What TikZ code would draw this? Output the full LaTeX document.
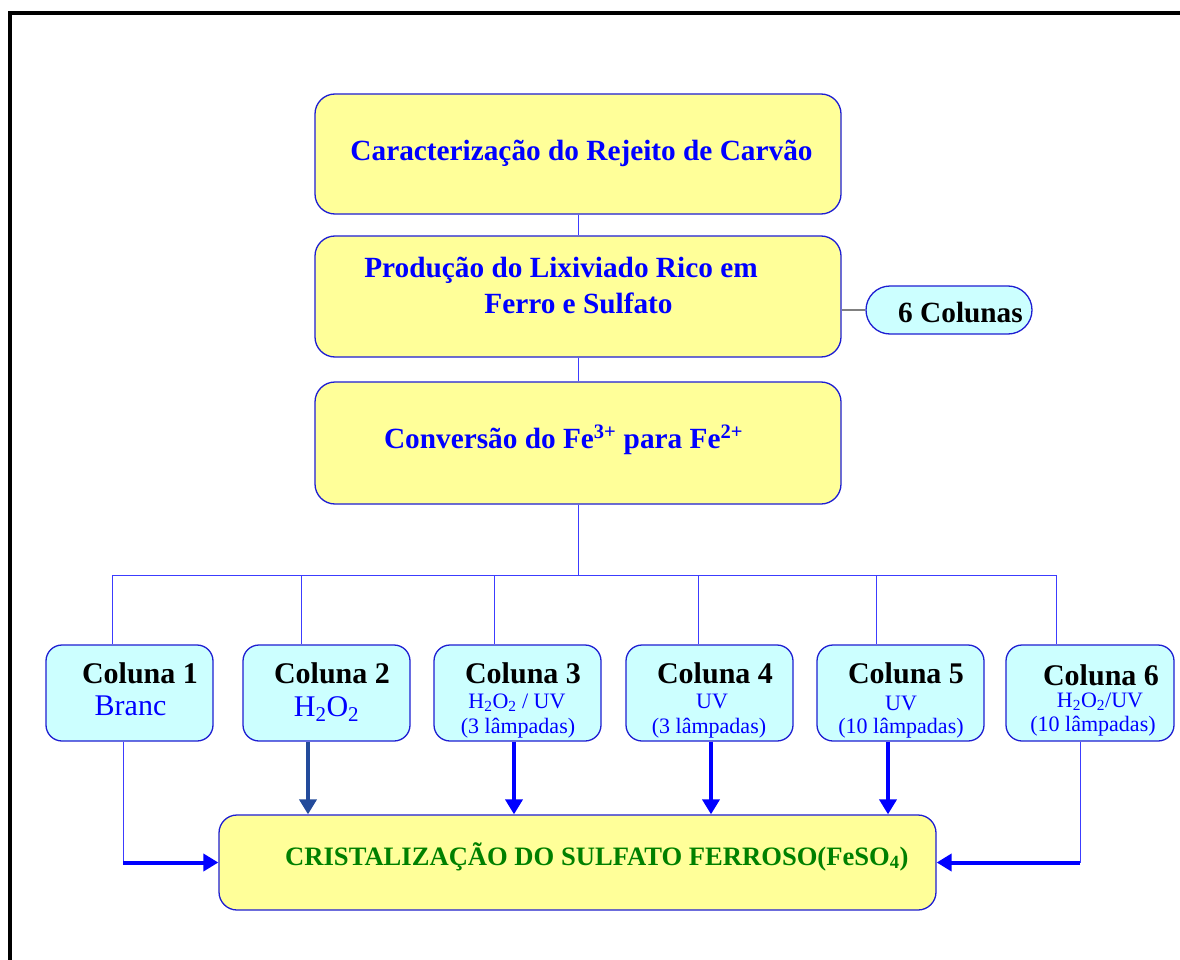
\documentclass[tikz,border=0pt]{standalone}
\usepackage{fontspec}
\setmainfont{Liberation Serif}
\usetikzlibrary{arrows.meta}
\definecolor{boxblue}{RGB}{30,30,210}
\definecolor{txtblue}{RGB}{0,0,255}
\definecolor{ylw}{RGB}{255,255,153}
\definecolor{cyn}{RGB}{204,255,255}
\definecolor{grn}{RGB}{0,128,0}
\definecolor{linkblue}{RGB}{60,60,255}
\definecolor{slate}{RGB}{35,75,155}
\begin{document}
\begin{tikzpicture}[x=1pt,y=-1pt,
  bigbox/.style={draw=boxblue, line width=1.3pt, fill=ylw, rounded corners=20pt, minimum width=526pt, inner sep=0pt},
  pillbox/.style={draw=boxblue, line width=1.3pt, fill=cyn, rounded corners=24pt, minimum width=166pt, minimum height=48pt, inner sep=0pt},
  colbox/.style={draw=boxblue, line width=1.3pt, fill=cyn, rounded corners=16pt, minimum width=167pt, minimum height=96pt, inner sep=0pt},
  thinlink/.style={draw=linkblue, line width=0.9pt},
  greylink/.style={draw=gray, line width=1.2pt},
  thickarrow/.style={draw=txtblue, line width=4pt, -{Triangle[width=17pt,length=15pt]}},
  title/.style={font=\fontsize{29.3}{37}\selectfont\bfseries, text=txtblue, inner sep=0pt, anchor=base},
  lbl/.style={font=\fontsize{30}{36}\selectfont\bfseries, text=black, anchor=base, inner sep=0pt},
  subbig/.style={font=\fontsize{30}{36}\selectfont, text=txtblue, anchor=base, inner sep=0pt},
  subsmall/.style={font=\fontsize{22}{26}\selectfont, text=txtblue, anchor=base, inner sep=0pt}
]
\useasboundingbox (0,0) rectangle (1180,960);
\fill[white] (0,0) rectangle (1180,960);
\draw[line width=4pt] (10,13) rectangle (1200,990);

% top boxes
\node[bigbox, minimum height=120pt] (b1) at (578,154) {};
\node[bigbox, minimum height=121pt] (b2) at (578,296.5) {};
\node[bigbox, minimum height=122pt] (b3) at (578,443) {};
\node[pillbox] (p) at (949,310) {};

\node[title] (t1) at (581.5,161) {Caracteriza\c{c}\~ao do Rejeito de Carv\~ao};
\node[title] (t2a) at (561,277) {Produ\c{c}\~ao do Lixiviado Rico em};
\node[title] (t2b) at (578.5,313) {Ferro e Sulfato};
\node[title] (t3) at (563.5,448) {Convers\~ao do Fe\textsuperscript{3+} para Fe\textsuperscript{2+}};
\node[title, text=black] (tp) at (960.5,322) {6 Colunas};

% column boxes
\node[colbox] (c1) at (129.5,693) {};
\node[colbox] (c2) at (326.5,693) {};
\node[colbox] (c3) at (517.5,693) {};
\node[colbox] (c4) at (709.5,693) {};
\node[colbox] (c5) at (900.5,693) {};
\node[colbox, minimum width=168pt] (c6) at (1090,693) {};

\node[lbl] (l1) at (140,683) {Coluna 1};
\node[subbig] (s1) at (130.5,715) {Branc};
\node[lbl] (l2) at (332,683) {Coluna 2};
\node[subbig] (s2) at (326.5,716) {H\textsubscript{2}O\textsubscript{2}};
\node[lbl] (l3) at (523,683) {Coluna 3};
\node[subsmall] (s3) at (517,708) {H\textsubscript{2}O\textsubscript{2} / UV};
\node[subsmall] (r3) at (518,733) {(3 l\^ampadas)};
\node[lbl] (l4) at (715,683) {Coluna 4};
\node[subsmall] (s4) at (712,708) {UV};
\node[subsmall] (r4) at (709,733) {(3 l\^ampadas)};
\node[lbl] (l5) at (906,683) {Coluna 5};
\node[subsmall] (s5) at (901,710) {UV};
\node[subsmall] (r5) at (901,733) {(10 l\^ampadas)};
\node[lbl] (l6) at (1101,685) {Coluna 6};
\node[subsmall] (s6) at (1100,707) {H\textsubscript{2}O\textsubscript{2}/UV};
\node[subsmall] (r6) at (1093,731) {(10 l\^ampadas)};

% bottom box
\node[draw=boxblue, line width=1.3pt, fill=ylw, rounded corners=18pt, minimum width=717pt, minimum height=95pt, inner sep=0pt] (bot) at (577.5,862.5) {};
\node[anchor=base west, inner sep=0pt, text=grn, font=\fontsize{26.6}{32}\selectfont\bfseries] (tb) at (285,865)
  {CRISTALIZA\c{C}\~AO DO SULFATO FERROSO(FeSO\textsubscript{4})};

% top connectors
\draw[thinlink] (b1.south) -- (b2.north);
\draw[thinlink] (b2.south) -- (b3.north);
\draw[greylink] (b2.east) ++(0,13.5) coordinate (g1) -- (g1 -| p.west);
\coordinate (hub) at (578,575);
\draw[thinlink] (b3.south) -- (hub);
\coordinate (d1) at (112,575);
\coordinate (d2) at (301,575);
\coordinate (d3) at (494,575);
\coordinate (d4) at (698,575);
\coordinate (d5) at (876,575);
\coordinate (d6) at (1056,575);
\draw[thinlink] (d1) -- (d6);
\draw[thinlink] (d1) -- (d1 |- c1.north);
\draw[thinlink] (d2) -- (d2 |- c2.north);
\draw[thinlink] (d3) -- (d3 |- c3.north);
\draw[thinlink] (d4) -- (d4 |- c4.north);
\draw[thinlink] (d5) -- (d5 |- c5.north);
\draw[thinlink] (d6) -- (d6 |- c6.north);

% bottom arrows
\coordinate (a1) at (123,0);
\coordinate (a2) at (308,0);
\coordinate (a3) at (514,0);
\coordinate (a4) at (711,0);
\coordinate (a5) at (888,0);
\coordinate (a6) at (1080,0);
\draw[thinlink] (a1 |- c1.south) -- (a1 |- bot.west);
\draw[thickarrow] (a1 |- bot.west) -- (bot.west);
\draw[thickarrow, draw=slate, fill=slate] (a2 |- c2.south) -- (a2 |- bot.north);
\draw[thickarrow] (a3 |- c3.south) -- (a3 |- bot.north);
\draw[thickarrow] (a4 |- c4.south) -- (a4 |- bot.north);
\draw[thickarrow] (a5 |- c5.south) -- (a5 |- bot.north);
\draw[thinlink] (a6 |- c6.south) -- (a6 |- bot.east);
\draw[thickarrow] (a6 |- bot.east) -- (bot.east);
\end{tikzpicture}
\end{document}
